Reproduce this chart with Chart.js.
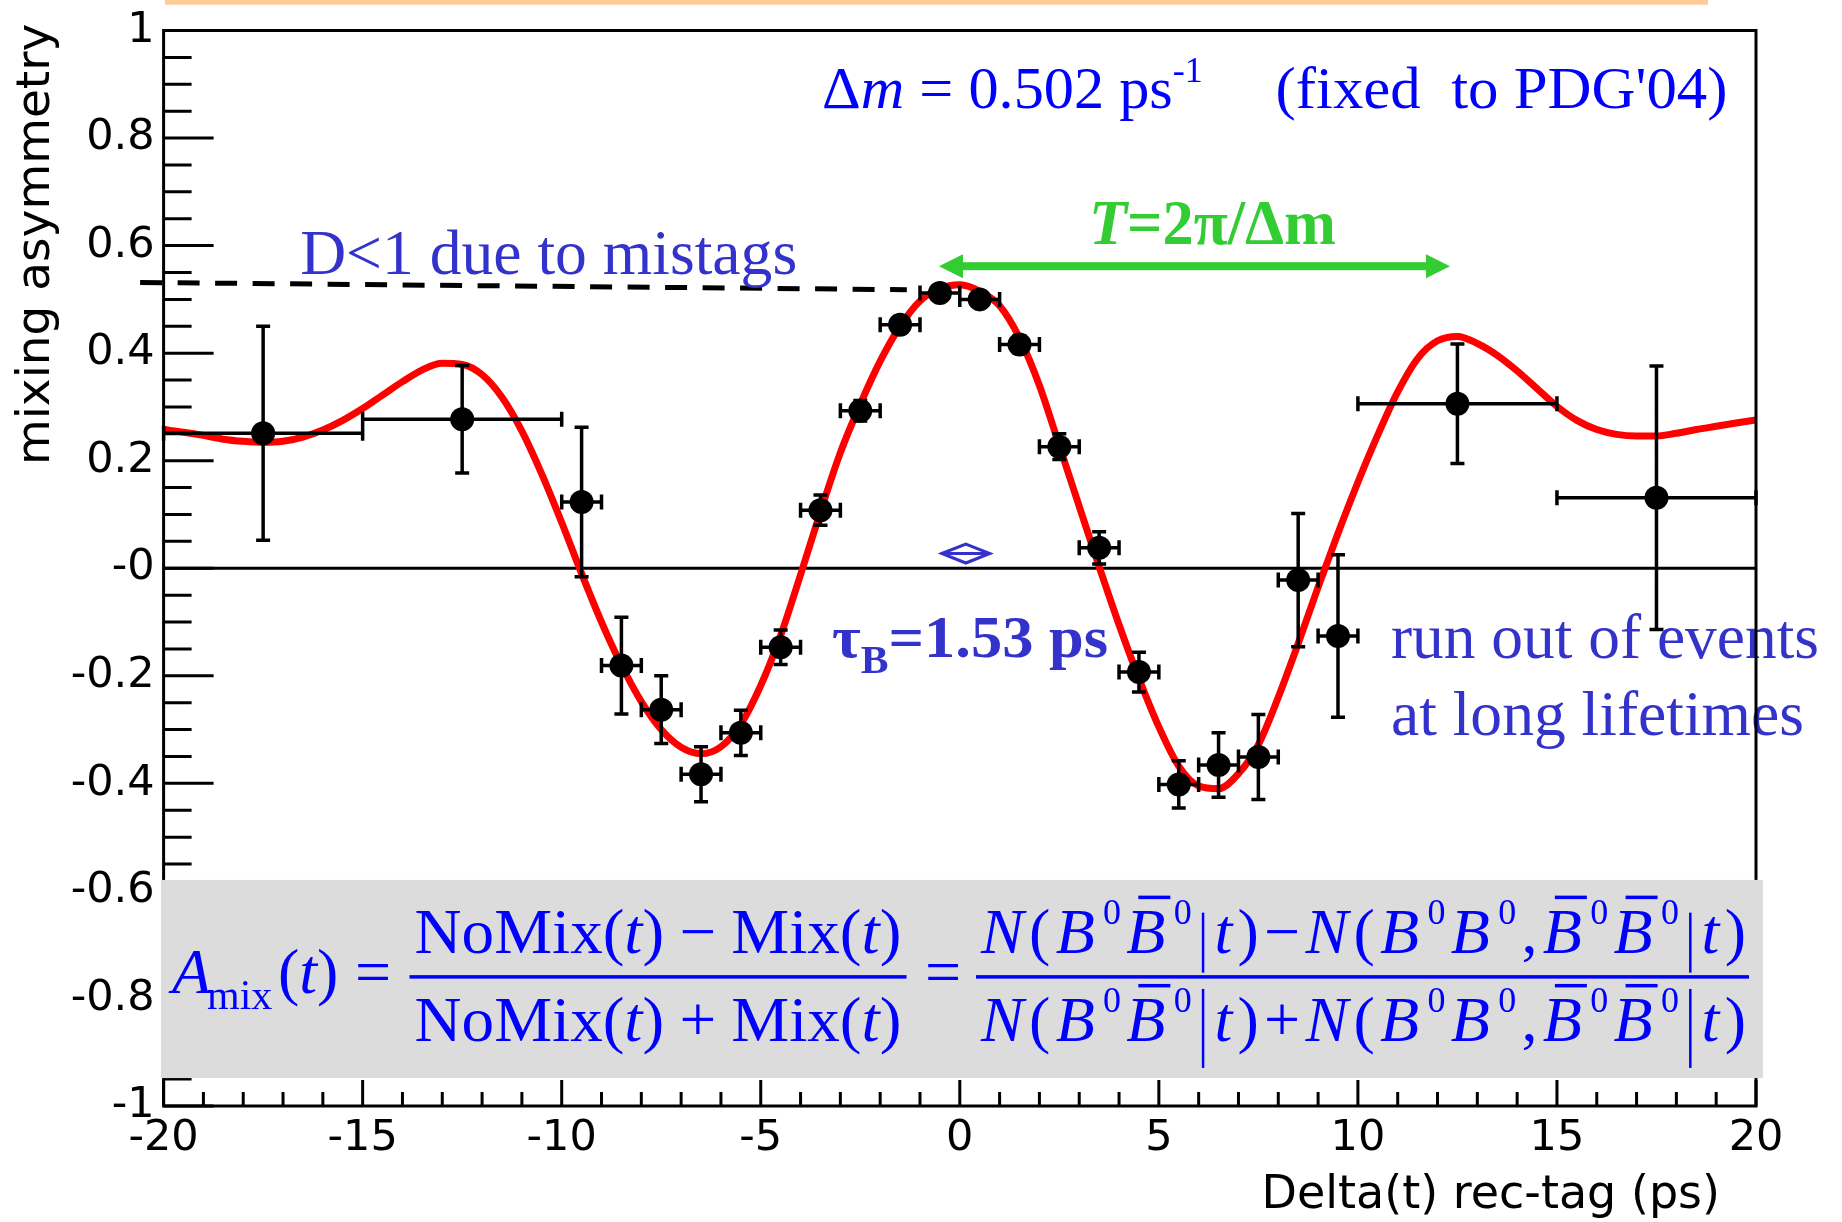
<!DOCTYPE html>
<html>
<head>
<meta charset="utf-8">
<title>B0 mixing asymmetry</title>
<script src="https://cdn.jsdelivr.net/npm/chart.js@4.4.1/dist/chart.umd.min.js"></script>
<style>
  html, body { margin: 0; padding: 0; background: #ffffff; }
  #holder { position: relative; width: 1842px; height: 1222px; }
</style>
</head>
<body>
<div id="holder"><canvas id="mix" width="1842" height="1222"></canvas></div>
<script>
// fitted curve, every 0.5 ps
const fitT = [-20, -19.5, -19, -18.5, -18, -17.5, -17, -16.5, -16, -15.5, -15, -14.5, -14, -13.5, -13, -12.5,
  -12, -11.5, -11, -10.5, -10, -9.5, -9, -8.5, -8, -7.5, -7, -6.5, -6, -5.5, -5, -4.5, -4, -3.5, -3, -2.5,
  -2, -1.5, -1, -0.5, 0, 0.5, 1, 1.5, 2, 2.5, 3, 3.5, 4, 4.5, 5, 5.5, 6, 6.5, 7, 7.5, 8, 8.5, 9, 9.5,
  10, 10.5, 11, 11.5, 12, 12.5, 13, 13.5, 14, 14.5, 15, 15.5, 16, 16.5, 17, 17.5, 18, 18.5, 19, 19.5, 20];
const fitA = [0.258, 0.253, 0.247, 0.240, 0.236, 0.234, 0.236, 0.244, 0.257, 0.275, 0.297, 0.322, 0.347, 0.369, 0.381, 0.379,
  0.360, 0.318, 0.255, 0.175, 0.085, -0.010, -0.100, -0.180, -0.248, -0.300, -0.333, -0.345, -0.332, -0.290, -0.218, -0.125, -0.012, 0.105, 0.215, 0.305,
  0.385, 0.450, 0.497, 0.520, 0.527, 0.515, 0.488, 0.428, 0.340, 0.228, 0.115, 0.003, -0.105, -0.205, -0.295, -0.368, -0.405, -0.410, -0.382, -0.328, -0.240, -0.140, -0.035, 0.065,
  0.160, 0.248, 0.328, 0.390, 0.423, 0.431, 0.418, 0.396, 0.367, 0.334, 0.301, 0.275, 0.258, 0.249, 0.246, 0.246, 0.251, 0.258, 0.264, 0.270, 0.276];

// measured asymmetry per Delta(t) bin
const binT = [-17.5, -12.5, -9.5, -8.5, -7.5, -6.5, -5.5, -4.5, -3.5, -2.5, -1.5, -0.5, 0.5, 1.5, 2.5, 3.5, 4.5, 5.5, 6.5, 7.5, 8.5, 9.5, 12.5, 17.5];
const binA = [0.251, 0.277, 0.123, -0.181, -0.263, -0.383, -0.306, -0.147, 0.108, 0.293, 0.453, 0.512, 0.500, 0.416, 0.226, 0.038, -0.193, -0.402, -0.366, -0.351, -0.022, -0.126, 0.306, 0.131];
const binErr = [0.199, 0.100, 0.139, 0.090, 0.063, 0.051, 0.042, 0.032, 0.028, 0.019, 0.015, 0.013, 0.013, 0.016, 0.024, 0.030, 0.037, 0.044, 0.060, 0.079, 0.124, 0.151, 0.111, 0.245];
const binHalf = [2.5, 2.5, 0.5, 0.5, 0.5, 0.5, 0.5, 0.5, 0.5, 0.5, 0.5, 0.5, 0.5, 0.5, 0.5, 0.5, 0.5, 0.5, 0.5, 0.5, 0.5, 0.5, 2.5, 2.5];

// tick labels
const yLabelVals = [1, 0.8, 0.6, 0.4, 0.2, 0, -0.2, -0.4, -0.6, -0.8, -1];
const yLabelText = ['1', '0.8', '0.6', '0.4', '0.2', '-0', '-0.2', '-0.4', '-0.6', '-0.8', '-1'];
const xLabelVals = [-20, -15, -10, -5, 0, 5, 10, 15, 20];
const xLabelText = ['-20', '-15', '-10', '-5', '0', '5', '10', '15', '20'];

const SERIF = '"Liberation Serif", "Times New Roman", serif';
const SANS = '"DejaVu Sans", sans-serif';
const serif = (px, style) => (style ? style + ' ' : '') + px + 'px ' + SERIF;

// draws a row of text pieces (fonts, sub/superscripts, bars) starting at x,y
function textRun(ctx, parts, x, y, opts) {
  ctx.save();
  ctx.fillStyle = opts.color;
  ctx.strokeStyle = opts.color;
  ctx.textAlign = 'left';
  ctx.textBaseline = 'alphabetic';
  const widths = parts.map(p => {
    if (p.bar) return p.bar.w;
    ctx.font = p.f;
    return ctx.measureText(p.t).width + (p.pad || 0);
  });
  const nat = widths.reduce((a, b) => a + b, 0);
  let sx = 1, gap = 0;
  if (opts.width && opts.justify && opts.width > nat) gap = (opts.width - nat) / (parts.length - 1);
  else if (opts.width) sx = opts.width / nat;
  ctx.translate(x, y);
  ctx.scale(sx, 1);
  let cx = 0;
  parts.forEach((p, i) => {
    if (p.bar) {
      ctx.lineWidth = 2.5;
      ctx.beginPath();
      ctx.moveTo(cx + p.bar.w / 2, p.bar.top);
      ctx.lineTo(cx + p.bar.w / 2, p.bar.bot);
      ctx.stroke();
    } else {
      ctx.font = p.f;
      ctx.fillText(p.t, cx, p.dy || 0);
      if (p.over) ctx.fillRect(cx + p.over[0], p.over[2], p.over[1] - p.over[0], 3.5);
    }
    cx += widths[i] + gap;
  });
  ctx.restore();
}

function mixFrac(sign) {
  const up = serif(64);
  return [
    { t: 'NoMix(', f: up }, { t: 't', f: serif(64, 'italic') }, { t: ')', f: up, pad: 15 },
    { t: sign, f: up, pad: 15 },
    { t: 'Mix(', f: up }, { t: 't', f: serif(64, 'italic') }, { t: ')', f: up }
  ];
}

function countFrac(sign, barTop, barBot) {
  const it = serif(64, 'italic'), up = serif(64), sup = serif(36);
  const B = () => ({ t: 'B', f: it, pad: 3 });
  const Bbar = () => ({ t: 'B', f: it, pad: 3, over: [12, 44, -57] });
  const zero = () => ({ t: '0', f: sup, dy: -29 });
  const vbar = () => ({ bar: { w: 12, top: barTop, bot: barBot } });
  return [
    { t: 'N', f: it }, { t: '(', f: up }, B(), zero(), Bbar(), zero(), vbar(), { t: 't', f: it }, { t: ')', f: up },
    { t: sign, f: up },
    { t: 'N', f: it }, { t: '(', f: up }, B(), zero(), B(), zero(), { t: ',', f: up },
    Bbar(), zero(), Bbar(), zero(), vbar(), { t: 't', f: it }, { t: ')', f: up }
  ];
}

const rootStyle = {
  id: 'rootStyle',
  beforeDatasetsDraw(chart) {
    const { ctx, chartArea: a, scales: { x, y } } = chart;
    ctx.save();
    // y = 0 line
    ctx.strokeStyle = '#000';
    ctx.lineWidth = 3;
    ctx.beginPath();
    ctx.moveTo(a.left, y.getPixelForValue(0));
    ctx.lineTo(a.right, y.getPixelForValue(0));
    ctx.stroke();

    // dilution line
    ctx.setLineDash([22, 15.5]);
    ctx.lineWidth = 5;
    ctx.beginPath();
    ctx.moveTo(x.getPixelForValue(-20.59), y.getPixelForValue(0.5315));
    ctx.lineTo(x.getPixelForValue(-1.33), y.getPixelForValue(0.518));
    ctx.stroke();
    ctx.setLineDash([]);

    const purple = '#3333CC';
    textRun(ctx, [{ t: 'D<1 due to mistags', f: serif(63) }], x.getPixelForValue(-16.57), y.getPixelForValue(0.548), { color: purple, width: 497 });

    textRun(ctx, [
      { t: '\u0394', f: serif(60) }, { t: 'm', f: serif(60, 'italic') },
      { t: ' = 0.502 ps', f: serif(60) }, { t: '-1', f: serif(36), dy: -26 }
    ], x.getPixelForValue(-3.463), y.getPixelForValue(0.8556), { color: '#0000FF', width: 381 });
    textRun(ctx, [{ t: '(fixed  to PDG\'04)', f: serif(60) }], x.getPixelForValue(7.93), y.getPixelForValue(0.8556), { color: '#0000FF', width: 452 });

    // oscillation period
    const green = '#33CC33';
    textRun(ctx, [{ t: 'T', f: serif(63, 'italic bold') }, { t: '=2\u03c0/\u0394m', f: serif(63, 'bold') }],
      x.getPixelForValue(3.245), y.getPixelForValue(0.6037), { color: green, width: 247 });
    const ay = y.getPixelForValue(0.5617), ax0 = x.getPixelForValue(-0.523), ax1 = x.getPixelForValue(12.313);
    ctx.fillStyle = green;
    ctx.fillRect(ax0 + 20, ay - 4, ax1 - ax0 - 40, 8);
    ctx.beginPath();
    ctx.moveTo(ax0, ay); ctx.lineTo(ax0 + 24, ay - 12); ctx.lineTo(ax0 + 24, ay + 12); ctx.closePath();
    ctx.moveTo(ax1, ay); ctx.lineTo(ax1 - 24, ay - 12); ctx.lineTo(ax1 - 24, ay + 12); ctx.closePath();
    ctx.fill();

    // lifetime marker
    const dx = x.getPixelForValue(0.151), dy = y.getPixelForValue(0.0274);
    ctx.strokeStyle = purple;
    ctx.lineWidth = 3;
    ctx.beginPath();
    ctx.moveTo(dx - 24, dy); ctx.lineTo(dx, dy - 9.5); ctx.lineTo(dx + 24, dy); ctx.lineTo(dx, dy + 9.5); ctx.closePath();
    ctx.moveTo(dx - 24, dy); ctx.lineTo(dx + 24, dy);
    ctx.stroke();
    textRun(ctx, [{ t: '\u03c4', f: serif(60, 'bold') }, { t: 'B', f: serif(40, 'bold'), dy: 16 }, { t: '=1.53 ps', f: serif(60, 'bold') }],
      x.getPixelForValue(-3.211), y.getPixelForValue(-0.1648), { color: purple, width: 276 });

    textRun(ctx, [{ t: 'run out of events', f: serif(63) }], x.getPixelForValue(10.83), y.getPixelForValue(-0.1667), { color: purple, width: 428 });
    textRun(ctx, [{ t: 'at long lifetimes', f: serif(63) }], x.getPixelForValue(10.83), y.getPixelForValue(-0.3102), { color: purple, width: 413 });
    ctx.restore();
  },
  beforeDatasetDraw(chart, args) {
    if (args.index !== 1) return;
    const { ctx, scales: { x, y } } = chart;
    ctx.save();
    ctx.strokeStyle = '#000';
    ctx.lineWidth = 3.5;
    ctx.beginPath();
    binT.forEach((t, i) => {
      const px = x.getPixelForValue(t), py = y.getPixelForValue(binA[i]);
      const yt = y.getPixelForValue(binA[i] + binErr[i]), yb = y.getPixelForValue(binA[i] - binErr[i]);
      const xl = x.getPixelForValue(t - binHalf[i]), xr = x.getPixelForValue(t + binHalf[i]);
      ctx.moveTo(px, yt); ctx.lineTo(px, yb);
      ctx.moveTo(px - 7, yt); ctx.lineTo(px + 7, yt);
      ctx.moveTo(px - 7, yb); ctx.lineTo(px + 7, yb);
      ctx.moveTo(xl, py); ctx.lineTo(xr, py);
      ctx.moveTo(xl, py - 7.5); ctx.lineTo(xl, py + 7.5);
      ctx.moveTo(xr, py - 7.5); ctx.lineTo(xr, py + 7.5);
    });
    ctx.stroke();
    ctx.restore();
  },
  afterDatasetsDraw(chart) {
    const { ctx, chartArea: a, scales: { x, y } } = chart;
    ctx.save();
    ctx.strokeStyle = '#000';
    ctx.lineWidth = 3;
    ctx.strokeRect(a.left, a.top, a.right - a.left, a.bottom - a.top);
    // ROOT style ticks pointing into the frame
    ctx.beginPath();
    y.ticks.forEach(tk => {
      const major = Math.abs(tk.value * 5 - Math.round(tk.value * 5)) < 1e-6;
      const py = y.getPixelForValue(tk.value);
      ctx.moveTo(a.left, py); ctx.lineTo(a.left + (major ? 50 : 28), py);
    });
    x.ticks.forEach(tk => {
      const major = Math.abs(tk.value % 5) < 1e-6;
      const px = x.getPixelForValue(tk.value);
      ctx.moveTo(px, a.bottom); ctx.lineTo(px, a.bottom - (major ? 26 : 14));
    });
    ctx.stroke();
    ctx.restore();
  },
  afterDraw(chart) {
    const { ctx, scales: { x, y } } = chart;
    ctx.save();
    // formula panel
    const bl = x.getPixelForValue(-20.065), br = x.getPixelForValue(20.176);
    const bt = y.getPixelForValue(-0.5796), bb = y.getPixelForValue(-0.9481);
    ctx.fillStyle = '#DCDCDC';
    ctx.fillRect(bl, bt, br - bl, bb - bt);

    const blue = '#0000FF';
    const num = bt + 72.7, mid = bt + 112.7, den = bt + 161;
    textRun(ctx, [{ t: 'A', f: serif(64, 'italic') }], bl + 11, mid, { color: blue });
    textRun(ctx, [{ t: 'mix', f: serif(42) }], bl + 46, mid + 16, { color: blue });
    textRun(ctx, [{ t: '(', f: serif(64) }, { t: 't', f: serif(64, 'italic') }, { t: ')', f: serif(64) }], bl + 117, mid, { color: blue });
    textRun(ctx, [{ t: '=', f: serif(64) }], bl + 194, mid, { color: blue });
    textRun(ctx, [{ t: '=', f: serif(64) }], bl + 764, mid, { color: blue });
    ctx.fillStyle = blue;
    ctx.fillRect(bl + 248.5, mid - 17.5, 497, 3.5);
    ctx.fillRect(bl + 815, mid - 17.5, 773, 3.5);
    textRun(ctx, mixFrac('\u2212'), bl + 253.6, num, { color: blue, width: 486.7 });
    textRun(ctx, mixFrac('+'), bl + 253.6, den, { color: blue, width: 486.7 });
    textRun(ctx, countFrac('\u2212', -40, 20), bl + 820, num, { color: blue, width: 765, justify: true });
    textRun(ctx, countFrac('+', -52, 27), bl + 820, den, { color: blue, width: 765, justify: true });

    // axis titles
    ctx.fillStyle = '#000';
    ctx.font = '46px ' + SANS;
    ctx.textAlign = 'right';
    ctx.textBaseline = 'alphabetic';
    ctx.fillText('Delta(t) rec-tag (ps)', 1720, 1208);
    ctx.translate(48.8, 465);
    ctx.rotate(-Math.PI / 2);
    ctx.textAlign = 'left';
    ctx.font = '47px ' + SANS;
    ctx.fillText('mixing asymmetry', 0, 0);
    ctx.restore();

    // slide rule above the plot
    ctx.save();
    ctx.fillStyle = '#FECA98';
    ctx.fillRect(165, 0, 1543, 4.7);
    ctx.restore();
  }
};

new Chart(document.getElementById('mix'), {
  type: 'line',
  data: {
    datasets: [
      {
        type: 'line',
        data: fitT.map((t, i) => ({ x: t, y: fitA[i] })),
        borderColor: '#FF0000',
        borderWidth: 7,
        borderJoinStyle: 'round',
        pointRadius: 0,
        fill: false,
        cubicInterpolationMode: 'monotone',
        order: 2
      },
      {
        type: 'scatter',
        data: binT.map((t, i) => ({ x: t, y: binA[i] })),
        backgroundColor: '#000000',
        borderWidth: 0,
        pointRadius: 12,
        pointHoverRadius: 12,
        order: 1
      }
    ]
  },
  options: {
    responsive: false,
    animation: false,
    devicePixelRatio: 1,
    layout: { padding: { top: 26, right: 86, left: 0, bottom: 0 } },
    plugins: { legend: { display: false }, tooltip: { enabled: false } },
    scales: {
      x: {
        type: 'linear',
        min: -20,
        max: 20,
        grid: { display: false, drawTicks: false },
        border: { display: false },
        ticks: {
          stepSize: 1,
          autoSkip: false,
          maxRotation: 0,
          padding: 11.5,
          color: '#000',
          font: { family: SANS, size: 43, lineHeight: 1 },
          callback: v => {
            const k = xLabelVals.findIndex(u => Math.abs(u - v) < 1e-6);
            return k < 0 ? '' : xLabelText[k];
          }
        },
        afterFit: s => { s.height = 116; }
      },
      y: {
        type: 'linear',
        min: -1,
        max: 1,
        grid: { display: false, drawTicks: false },
        border: { display: false },
        ticks: {
          stepSize: 0.05,
          autoSkip: false,
          padding: 9,
          color: '#000',
          font: { family: SANS, size: 43, lineHeight: 1 },
          callback: v => {
            const k = yLabelVals.findIndex(u => Math.abs(u - v) < 1e-6);
            return k < 0 ? '' : yLabelText[k];
          }
        },
        afterFit: s => { s.width = 163.6; }
      }
    }
  },
  plugins: [rootStyle]
});
</script>
</body>
</html>
